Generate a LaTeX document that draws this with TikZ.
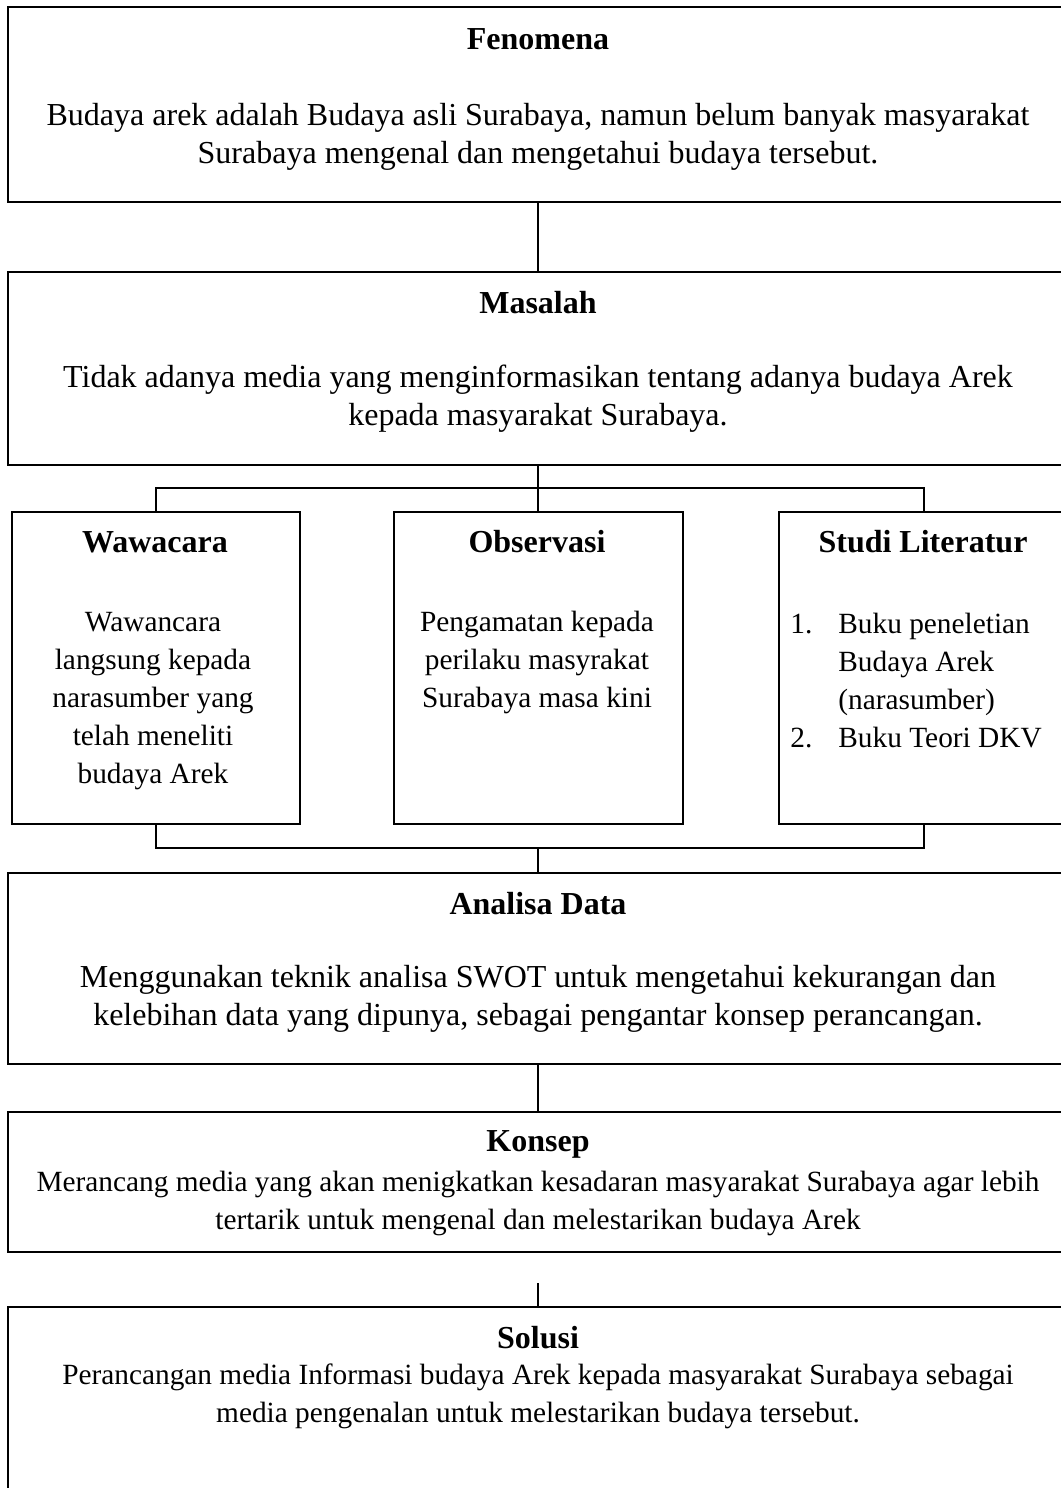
\documentclass[tikz,border=0pt]{standalone}
\usepackage{fontspec}
\setmainfont{Liberation Serif}

\tikzset{
    box/.style={draw, rectangle, line width=1pt, inner sep=0pt},
    head/.style={font=\fontsize{16}{19}\selectfont\bfseries, inner sep=0pt},
    body/.style={font=\fontsize{16}{19}\selectfont, align=center, inner sep=0pt},
    small/.style={body, font=\fontsize{14.67}{19}\selectfont},
    link/.style={line width=1pt},
}

\begin{document}
\begin{tikzpicture}[x=0.5pt, y=-0.5pt]

    \useasboundingbox (0,0) rectangle (1060,1488);

    % Fenomena
    \node[box, minimum width=530pt, minimum height=97.5pt] (fenomena) at (538,104.5) {};
    \node[head] (fenomena-t) at (538,39) {Fenomena};
    \node[body] (fenomena-b) at (538,137) {Budaya arek adalah Budaya asli Surabaya, namun belum banyak masyarakat\\Surabaya mengenal dan mengetahui budaya tersebut.};

    % Masalah
    \node[box, minimum width=530pt, minimum height=96.5pt] (masalah) at (538,368.5) {};
    \node[head] (masalah-t) at (538,303) {Masalah};
    \node[body] (masalah-b) at (538,399) {Tidak adanya media yang menginformasikan tentang adanya budaya Arek\\kepada masyarakat Surabaya.};

    % Pengumpulan data (three boxes)
    \node[box, minimum width=144pt, minimum height=156pt] (wawancara) at (156,668) {};
    \node[head] (wawancara-t) at (155,542) {Wawacara};
    \node[small] (wawancara-b) at (153,701) {Wawancara\\langsung kepada\\narasumber yang\\telah meneliti\\budaya Arek};

    \node[box, minimum width=144.5pt, minimum height=156pt] (observasi) at (538,668) {};
    \node[head] (observasi-t) at (537,542) {Observasi};
    \node[small] (observasi-b) at (537,662) {Pengamatan kepada\\perilaku masyrakat\\Surabaya masa kini};

    \node[box, minimum width=144.5pt, minimum height=156pt] (studi) at (923.5,668) {};
    \node[head] (studi-t) at (923,542) {Studi Literatur};
    \node[small, align=left, anchor=west] (studi-b) at (790,681) {\makebox[24pt][l]{1.}Buku peneletian\\\hspace*{24pt}Budaya Arek\\\hspace*{24pt}(narasumber)\\\makebox[24pt][l]{2.}Buku Teori DKV};

    % Analisa Data
    \node[box, minimum width=530pt, minimum height=95.5pt] (analisa) at (538,968.5) {};
    \node[head] (analisa-t) at (538,904) {Analisa Data};
    \node[body] (analisa-b) at (538,999) {Menggunakan teknik analisa SWOT untuk mengetahui kekurangan dan\\kelebihan data yang dipunya, sebagai pengantar konsep perancangan.};

    % Konsep
    \node[box, minimum width=530pt, minimum height=70pt] (konsep) at (538,1182) {};
    \node[head] (konsep-t) at (538,1144) {Konsep};
    \node[small] (konsep-b) at (538,1203) {Merancang media yang akan menigkatkan kesadaran masyarakat Surabaya agar lebih\\tertarik untuk mengenal dan melestarikan budaya Arek};

    % Solusi
    \node[box, minimum width=530pt, minimum height=96.5pt] (solusi) at (538,1403.5) {};
    \node[head] (solusi-t) at (538,1338) {Solusi};
    \node[small] (solusi-b) at (538,1396) {Perancangan media Informasi budaya Arek kepada masyarakat Surabaya sebagai\\media pengenalan untuk melestarikan budaya tersebut.};

    % Connectors
    \coordinate (bus-top) at (538,488);
    \coordinate (bus-bot) at (538,848);
    \coordinate (gap) at (538,1283);

    \draw[link] (fenomena) -- (masalah);
    \draw[link] (masalah) -- (bus-top);
    \draw[link] (wawancara.north) |- (bus-top) -| (studi.north);
    \draw[link] (observasi) -- (bus-top);
    \draw[link] (wawancara.south) |- (bus-bot) -| (studi.south);
    \draw[link] (bus-bot) -- (analisa);
    \draw[link] (analisa) -- (konsep);
    \draw[link] (gap) -- (solusi);

\end{tikzpicture}
\end{document}
